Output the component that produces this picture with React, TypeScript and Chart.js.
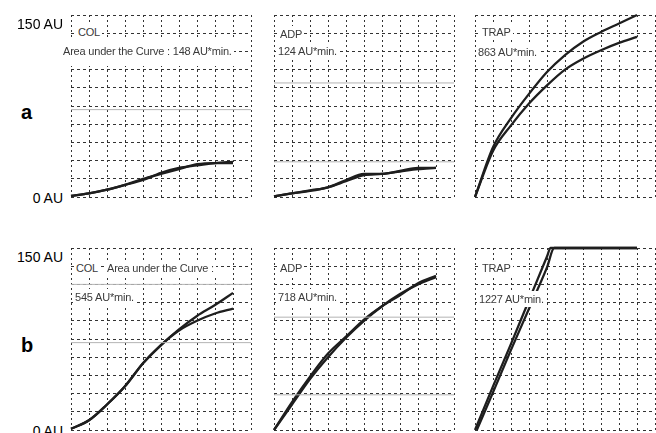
import React, { useEffect, useRef } from "react";
import { Chart, registerables } from "chart.js";

Chart.register(...registerables);

// ---- data (minutes vs. aggregation AU) ----
const minutes = [0, 1, 2, 3, 4, 5, 6, 7, 8, 9];

const colA1 = [1, 3, 6, 10, 15, 19, 23, 27, 28, 28];
const colA2 = [1, 3, 6, 10, 14, 20, 24, 26, 28, 29];
const adpA1 = [0.5, 3, 5.5, 8, 14, 19, 19, 21.5, 24, 24];
const adpA2 = [0.5, 3, 5, 8, 13, 18, 19, 21, 23, 24];
const trapA1 = [0, 41, 65, 85, 103, 117, 128, 136, 143, 150];
const trapA2 = [0, 38, 59, 77, 92, 105, 114, 121, 127, 132];

const colB1 = [1, 8, 21, 36, 55, 70, 83, 94, 103, 113];
const colB2 = [1, 8, 21, 36, 55, 70, 82, 90, 96, 100];
const adpB1 = [0, 23, 44, 63, 77, 91, 102, 111, 121, 127];
const adpB2 = [0, 21, 42, 60, 76, 90, 102, 112, 120, 126];
const trapBMin1 = [0, 1, 2, 3, 4, 4.2, 9];
const trapB1 = [0, 36, 71, 107, 143, 150, 150];
const trapBMin2 = [0.1, 1, 2, 3, 4, 4.4, 9];
const trapB2 = [0, 31, 66, 100, 134, 150, 150];

// gray reference levels (AU)
const refColA = [72];
const refAdpA = [94, 29];
const refTrapA: number[] = [];
const refColB = [120, 72];
const refAdpB = [93, 29];
const refTrapB: number[] = [];

const yTickLabels = ["150 AU", "0 AU"];
const rowLetters = ["a", "b"];

type Series = { x: number[]; y: number[] };
type PanelDef = {
  left: number;
  top: number;
  width: number;
  height: number;
  series: Series[];
  refs: number[];
};

const PAD = 3;

function Panel({ def }: { def: PanelDef }) {
  const ref = useRef<HTMLCanvasElement | null>(null);
  useEffect(() => {
    if (!ref.current) return;
    const datasets: any[] = [];
    def.refs.forEach((r) => {
      datasets.push({
        data: [
          { x: 0, y: r },
          { x: 10, y: r },
        ],
        borderColor: "#b4b4b4",
        borderWidth: 1,
        pointRadius: 0,
        clip: PAD,
      });
    });
    def.series.forEach((s) => {
      datasets.push({
        data: s.x.map((x, i) => ({ x, y: s.y[i] })),
        borderColor: "#1e1e1e",
        borderWidth: 2.3,
        pointRadius: 0,
        cubicInterpolationMode: "monotone",
        clip: PAD,
      });
    });
    const chart = new Chart(ref.current, {
      type: "line",
      data: { datasets },
      options: {
        responsive: false,
        animation: false,
        layout: { padding: PAD },
        plugins: { legend: { display: false }, tooltip: { enabled: false } },
        scales: {
          x: {
            type: "linear",
            min: 0,
            max: 10,
            ticks: { display: false, stepSize: 1 },
            grid: { color: "#333", lineWidth: 1, drawTicks: false },
            border: { display: false, dash: [2, 3] },
          },
          y: {
            type: "linear",
            min: 0,
            max: 150,
            ticks: { display: false, stepSize: 15 },
            grid: { color: "#333", lineWidth: 1, drawTicks: false },
            border: { display: false, dash: [3, 3] },
          },
        },
      },
    });
    return () => chart.destroy();
  }, [def]);
  return (
    <canvas
      ref={ref}
      width={def.width + 2 * PAD}
      height={def.height + 2 * PAD}
      style={{
        position: "absolute",
        left: def.left - PAD,
        top: def.top - PAD,
        width: def.width + 2 * PAD,
        height: def.height + 2 * PAD,
      }}
    />
  );
}

const colXs = [71, 274, 475];
const rowYs = [15, 248];
const PW = 180;
const PH = 182;

const panels: PanelDef[] = [
  { left: colXs[0], top: rowYs[0], width: PW, height: PH, refs: refColA, series: [{ x: minutes, y: colA1 }, { x: minutes, y: colA2 }] },
  { left: colXs[1], top: rowYs[0], width: PW, height: PH, refs: refAdpA, series: [{ x: minutes, y: adpA1 }, { x: minutes, y: adpA2 }] },
  { left: colXs[2], top: rowYs[0], width: PW, height: PH, refs: refTrapA, series: [{ x: minutes, y: trapA1 }, { x: minutes, y: trapA2 }] },
  { left: colXs[0], top: rowYs[1], width: PW, height: PH, refs: refColB, series: [{ x: minutes, y: colB1 }, { x: minutes, y: colB2 }] },
  { left: colXs[1], top: rowYs[1], width: PW, height: PH, refs: refAdpB, series: [{ x: minutes, y: adpB1 }, { x: minutes, y: adpB2 }] },
  { left: colXs[2], top: rowYs[1], width: PW, height: PH, refs: refTrapB, series: [{ x: trapBMin1, y: trapB1 }, { x: trapBMin2, y: trapB2 }] },
];

type Label = { text: string; left: number; cy: number; pt?: number; pb?: number };
const labels: Label[] = [
  { text: "COL", left: 76, cy: 32 },
  { text: "Area under the Curve : 148 AU*min.", left: 61, cy: 51, pt: 6, pb: 8 },
  { text: "ADP", left: 278, cy: 34 },
  { text: "124 AU*min.", left: 276, cy: 51 },
  { text: "TRAP", left: 480, cy: 32 },
  { text: "863 AU*min.", left: 476, cy: 52 },
  { text: "COL", left: 74, cy: 268 },
  { text: "Area under the Curve :", left: 105, cy: 268 },
  { text: "545 AU*min.", left: 73, cy: 297 },
  { text: "ADP", left: 278, cy: 268 },
  { text: "718 AU*min.", left: 276, cy: 297 },
  { text: "TRAP", left: 480, cy: 268 },
  { text: "1227 AU*min.", left: 477, cy: 299 },
];

export default function App() {
  return (
    <div
      style={{
        position: "absolute",
        left: 0,
        top: 0,
        width: 656,
        height: 433,
        overflow: "hidden",
        background: "#fff",
        fontFamily: "Arial, 'Liberation Sans', sans-serif",
      }}
    >
      {panels.map((p, i) => (
        <Panel key={i} def={p} />
      ))}
      {labels.map((l, i) => (
        <div
          key={i}
          style={{
            position: "absolute",
            left: l.left,
            top: l.cy - 7 - (l.pt ?? 1),
            paddingTop: l.pt ?? 1,
            paddingBottom: l.pb ?? 1,
            paddingLeft: 2,
            paddingRight: 2,
            background: "#fff",
            color: "#3a3a3a",
            fontSize: 11,
            lineHeight: "14px",
            whiteSpace: "nowrap",
            letterSpacing: -0.2,
          }}
        >
          {l.text}
        </div>
      ))}
      {rowYs.map((y, r) => (
        <React.Fragment key={r}>
          <div style={{ position: "absolute", right: 656 - 63, top: y + 9 - 9, fontSize: 14, lineHeight: "18px", color: "#000", whiteSpace: "nowrap" }}>
            {yTickLabels[0]}
          </div>
          <div style={{ position: "absolute", right: 656 - 63, top: y + PH + 1 - 9, fontSize: 14, lineHeight: "18px", color: "#000", whiteSpace: "nowrap" }}>
            {yTickLabels[1]}
          </div>
          <div style={{ position: "absolute", left: 21, top: y + 97 - 12, fontSize: 20, fontWeight: "bold", lineHeight: "24px", color: "#000" }}>
            {rowLetters[r]}
          </div>
        </React.Fragment>
      ))}
    </div>
  );
}
